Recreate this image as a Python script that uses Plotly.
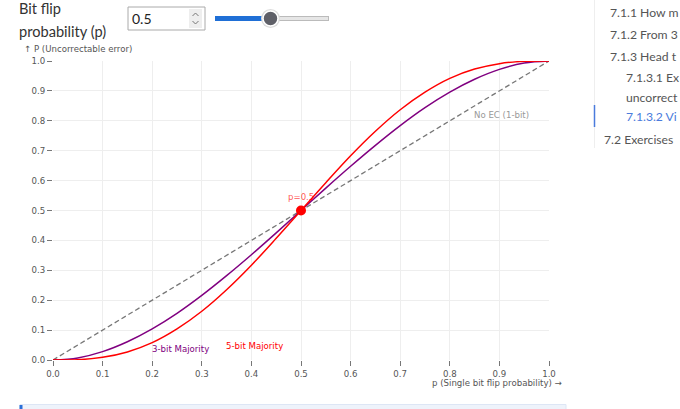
import plotly.graph_objects as go

# ---- data ----
p_vals = [0.0, 0.05, 0.1, 0.15, 0.2, 0.25, 0.3, 0.35, 0.4, 0.45, 0.5,
          0.55, 0.6, 0.65, 0.7, 0.75, 0.8, 0.85, 0.9, 0.95, 1.0]
no_ec = [0.0, 0.05, 0.1, 0.15, 0.2, 0.25, 0.3, 0.35, 0.4, 0.45, 0.5,
         0.55, 0.6, 0.65, 0.7, 0.75, 0.8, 0.85, 0.9, 0.95, 1.0]
maj3 = [0.0, 0.007, 0.028, 0.061, 0.104, 0.156, 0.216, 0.282, 0.352, 0.425, 0.5,
        0.575, 0.648, 0.718, 0.784, 0.844, 0.896, 0.939, 0.972, 0.993, 1.0]
maj5 = [0.0, 0.001, 0.009, 0.027, 0.058, 0.104, 0.163, 0.235, 0.317, 0.407, 0.5,
        0.593, 0.683, 0.765, 0.837, 0.896, 0.942, 0.973, 0.991, 0.999, 1.0]
current_p = 0.5
current_val = 0.5
x_ticks = [0.0, 0.1, 0.2, 0.3, 0.4, 0.5, 0.6, 0.7, 0.8, 0.9, 1.0]
y_ticks = [0.0, 0.1, 0.2, 0.3, 0.4, 0.5, 0.6, 0.7, 0.8, 0.9, 1.0]
toc_items = [("7.1.1 How m", 610, 12, "#555"),
             ("7.1.2 From 3", 610, 34, "#555"),
             ("7.1.3 Head t", 610, 56, "#555"),
             ("7.1.3.1 Ex", 626, 78, "#555"),
             ("uncorrect", 626, 97, "#555"),
             ("7.1.3.2 Vi", 626, 116, "#4a7bdc"),
             ("7.2 Exercises", 604, 139, "#555")]

W, H = 680, 409
L, R, T, B = 53, 549, 61, 360


def px(x):
    return (x - L) / (R - L)


def py(y):
    return (B - y) / (B - T)


CHART_FONT = "DejaVu Sans"
CF = 8.6
PAGE_FONT = "Lato"

fig = go.Figure()
fig.add_trace(go.Scatter(x=p_vals, y=no_ec, mode="lines",
                         line=dict(color="#777", width=1.3, dash="5px,3px"),
                         hoverinfo="skip", showlegend=False))
fig.add_trace(go.Scatter(x=p_vals, y=maj3, mode="lines", line_shape="spline",
                         line=dict(color="purple", width=1.5),
                         showlegend=False))
fig.add_trace(go.Scatter(x=p_vals, y=maj5, mode="lines", line_shape="spline",
                         line=dict(color="red", width=1.5),
                         showlegend=False))
fig.add_trace(go.Scatter(x=[current_p], y=[current_val], mode="markers",
                         marker=dict(color="red", size=10),
                         showlegend=False))

ann = []
# chart labels
ann.append(dict(x=current_p, y=current_val, xref="x", yref="y", text="p=0.5",
                showarrow=False, xshift=0, yshift=14,
                font=dict(family=CHART_FONT, size=CF, color="rgba(255,0,0,0.7)")))
ann.append(dict(x=0.905, y=0.82, xref="x", yref="y", text="No EC (1-bit)",
                showarrow=False, font=dict(family=CHART_FONT, size=CF, color="#999")))
ann.append(dict(x=0.258, y=0.037, xref="x", yref="y", text="3-bit Majority",
                showarrow=False, font=dict(family=CHART_FONT, size=CF, color="purple")))
ann.append(dict(x=0.407, y=0.047, xref="x", yref="y", text="5-bit Majority",
                showarrow=False, font=dict(family=CHART_FONT, size=CF, color="red")))
ann.append(dict(x=px(22), y=py(49), xref="paper", yref="paper",
                text="↑ P (Uncorrectable error)", showarrow=False,
                xanchor="left", yanchor="middle",
                font=dict(family=CHART_FONT, size=CF, color="#555")))
ann.append(dict(x=px(564), y=py(383), xref="paper", yref="paper",
                text="p (Single bit flip probability) →", showarrow=False,
                xanchor="right", yanchor="middle",
                font=dict(family=CHART_FONT, size=CF, color="#555")))
# page controls
ann.append(dict(x=px(17), y=py(9), xref="paper", yref="paper",
                text="Bit flip", showarrow=False, xanchor="left", yanchor="middle",
                font=dict(family=PAGE_FONT, size=14.6, color="#333")))
ann.append(dict(x=px(17), y=py(31), xref="paper", yref="paper",
                text="probability (p)", showarrow=False, xanchor="left", yanchor="middle",
                font=dict(family=PAGE_FONT, size=14.6, color="#333")))
ann.append(dict(x=px(130), y=py(18), xref="paper", yref="paper",
                text=str(current_p), showarrow=False, xanchor="left", yanchor="middle",
                font=dict(family=PAGE_FONT, size=14, color="#222")))
for txt, x, y, c in toc_items:
    ann.append(dict(x=px(x - 2), y=py(y), xref="paper", yref="paper", text=txt,
                    showarrow=False, xanchor="left", yanchor="middle",
                    font=dict(family=PAGE_FONT, size=12.2, color=c)))

shapes = []
# input box
shapes.append(dict(type="rect", xref="paper", yref="paper",
                   x0=px(128), x1=px(205), y0=py(7), y1=py(30),
                   line=dict(color="#aaa", width=1), fillcolor="white"))
shapes.append(dict(type="rect", xref="paper", yref="paper",
                   x0=px(189), x1=px(202), y0=py(9), y1=py(28),
                   line=dict(width=0), fillcolor="#eee"))
ux0, ux1 = px(192.5), px(198.5)
shapes.append(dict(type="path", xref="paper", yref="paper",
                   path=f"M {ux0} {py(16)} L {(ux0+ux1)/2} {py(13)} L {ux1} {py(16)}",
                   line=dict(color="#777", width=1)))
shapes.append(dict(type="path", xref="paper", yref="paper",
                   path=f"M {ux0} {py(21)} L {(ux0+ux1)/2} {py(24)} L {ux1} {py(21)}",
                   line=dict(color="#777", width=1)))
# slider
shapes.append(dict(type="line", xref="paper", yref="paper",
                   x0=px(215), x1=px(329), y0=py(18.5), y1=py(18.5),
                   line=dict(color="#bbb", width=5)))
shapes.append(dict(type="line", xref="paper", yref="paper",
                   x0=px(216), x1=px(328), y0=py(18.5), y1=py(18.5),
                   line=dict(color="#e6e6e6", width=3)))
shapes.append(dict(type="line", xref="paper", yref="paper",
                   x0=px(215), x1=px(270), y0=py(18.5), y1=py(18.5),
                   line=dict(color="#1f6fd6", width=5)))
shapes.append(dict(type="circle", xref="paper", yref="paper",
                   x0=px(261), x1=px(280), y0=py(9), y1=py(28),
                   line=dict(width=0), fillcolor="#ddd"))
shapes.append(dict(type="circle", xref="paper", yref="paper",
                   x0=px(263), x1=px(278), y0=py(11), y1=py(26),
                   line=dict(color="white", width=1.5), fillcolor="#5f6068"))
# toc rail
shapes.append(dict(type="line", xref="paper", yref="paper",
                   x0=px(594.5), x1=px(594.5), y0=py(0), y1=py(148),
                   line=dict(color="#eee", width=1)))
shapes.append(dict(type="line", xref="paper", yref="paper",
                   x0=px(594.5), x1=px(594.5), y0=py(105), y1=py(127),
                   line=dict(color="#4a7bdc", width=1.5)))
# bottom callout box
shapes.append(dict(type="rect", xref="paper", yref="paper",
                   x0=px(20), x1=px(566), y0=py(404.5), y1=py(420),
                   line=dict(color="#dde6f5", width=1), fillcolor="#eef3fb"))
shapes.append(dict(type="line", xref="paper", yref="paper",
                   x0=px(21), x1=px(21), y0=py(405), y1=py(420),
                   line=dict(color="#2a6fd8", width=3)))

axis_common = dict(
    showgrid=True, gridcolor="#eeeeee", gridwidth=1,
    zeroline=False, showline=False,
    ticks="outside", ticklen=5, tickcolor="#777", tickwidth=1,
    tickfont=dict(family=CHART_FONT, size=CF, color="#555"),
    range=[0, 1], fixedrange=True,
)
fig.update_layout(
    width=W, height=H,
    margin=dict(l=L, r=W - R, t=T, b=H - B, pad=0, autoexpand=False),
    paper_bgcolor="white", plot_bgcolor="white",
    xaxis=dict(**axis_common, tickvals=x_ticks, ticklabelstandoff=1,
               ticktext=[f"{v:.1f}" for v in x_ticks]),
    yaxis=dict(**axis_common, tickvals=y_ticks,
               ticktext=[f"{v:.1f}" for v in y_ticks]),
    annotations=ann, shapes=shapes, showlegend=False,
)
fig.update_xaxes(automargin=False)
fig.update_yaxes(automargin=False)

fig.write_html("out.html", config=dict(displayModeBar=False))
